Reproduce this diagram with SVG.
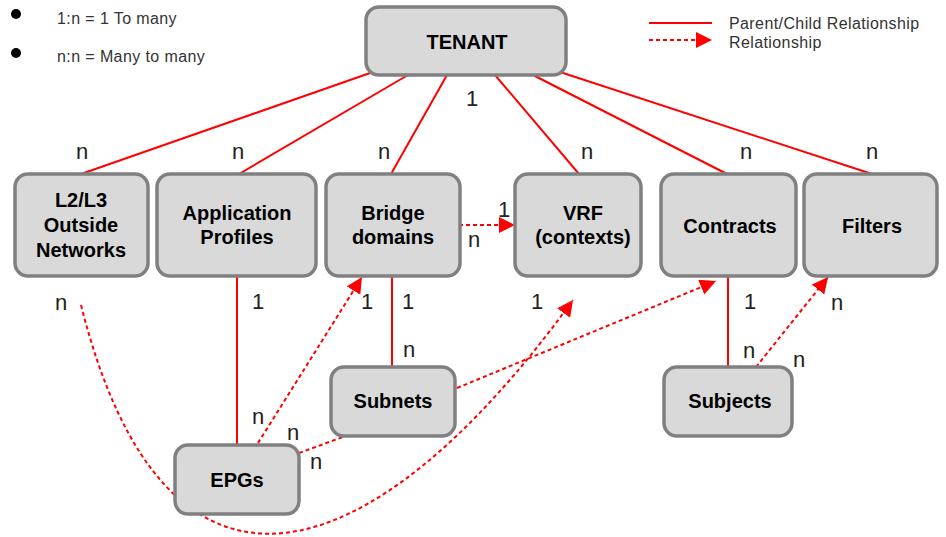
<svg xmlns="http://www.w3.org/2000/svg" width="946" height="537" viewBox="0 0 946 537">
<defs>
<marker id="arr" markerUnits="userSpaceOnUse" markerWidth="17" markerHeight="17" refX="16" refY="8" orient="auto">
<path d="M0,0 L16,8 L0,16 z" fill="#ff0000"/>
</marker>
<style>
.node rect{fill:#d9d9d9;stroke:#808080;stroke-width:3.5}
.node text{font-family:"Liberation Sans",Arial,sans-serif;font-weight:bold;font-size:20px;fill:#000;text-anchor:middle}
.solid{stroke:#ff0000;stroke-width:2;fill:none}
.dash{stroke:#ff0000;stroke-width:2;fill:none;stroke-dasharray:4 3}
.lbl{font-family:"Liberation Sans",Arial,sans-serif;font-size:22px;fill:#222;text-anchor:middle}
.leg{font-family:"Liberation Sans",Arial,sans-serif;font-size:16px;fill:#333;letter-spacing:0.4px}
</style>
</defs>
<rect width="946" height="537" fill="#ffffff"/>

<g id="legend">
<circle cx="16" cy="14" r="5" fill="#000"/>
<circle cx="16" cy="53" r="5" fill="#000"/>
<text class="leg" x="57" y="24">1:n = 1 To many</text>
<text class="leg" x="57" y="62">n:n = Many to many</text>
<line class="solid" x1="649" y1="23" x2="712" y2="23"/>
<line class="dash" x1="649" y1="40" x2="712" y2="40" marker-end="url(#arr)"/>
<text class="leg" x="729" y="29">Parent/Child Relationship</text>
<text class="leg" x="729" y="48">Relationship</text>
</g>

<g id="connectors">
<line class="solid" x1="373" y1="72" x2="81" y2="174"/>
<line class="solid" x1="408" y1="75" x2="239" y2="174"/>
<line class="solid" x1="447" y1="75" x2="391" y2="174"/>
<line class="solid" x1="495" y1="75" x2="579" y2="174"/>
<line class="solid" x1="533" y1="75" x2="727" y2="174"/>
<line class="solid" x1="560" y1="72" x2="872" y2="174"/>
<line class="solid" x1="237" y1="277" x2="237" y2="445"/>
<line class="solid" x1="392" y1="277" x2="392" y2="367"/>
<line class="solid" x1="728" y1="277" x2="728" y2="367"/>
<line class="dash" x1="459" y1="225" x2="515" y2="225" marker-end="url(#arr)"/>
<line class="dash" x1="258" y1="443" x2="362" y2="277" marker-end="url(#arr)"/>
<line class="dash" x1="299" y1="453" x2="343" y2="437"/>
<line class="dash" x1="457" y1="388" x2="716" y2="281" marker-end="url(#arr)"/>
<line class="dash" x1="756" y1="367" x2="828" y2="277" marker-end="url(#arr)"/>
<path class="dash" d="M81,305 C165,640 370,580 573,300" marker-end="url(#arr)"/>
</g>

<g id="labels">
<text class="lbl" x="472" y="106">1</text>
<text class="lbl" x="82" y="159">n</text>
<text class="lbl" x="238" y="159">n</text>
<text class="lbl" x="384" y="159">n</text>
<text class="lbl" x="587" y="159">n</text>
<text class="lbl" x="746" y="159">n</text>
<text class="lbl" x="872" y="159">n</text>
<text class="lbl" x="504" y="217">1</text>
<text class="lbl" x="474" y="247">n</text>
<text class="lbl" x="61" y="310">n</text>
<text class="lbl" x="258" y="309">1</text>
<text class="lbl" x="367" y="309">1</text>
<text class="lbl" x="408" y="309">1</text>
<text class="lbl" x="537" y="309">1</text>
<text class="lbl" x="750" y="309">1</text>
<text class="lbl" x="837" y="310">n</text>
<text class="lbl" x="409" y="357">n</text>
<text class="lbl" x="749" y="358">n</text>
<text class="lbl" x="799" y="367">n</text>
<text class="lbl" x="258" y="424">n</text>
<text class="lbl" x="293" y="440">n</text>
<text class="lbl" x="316" y="469">n</text>
</g>

<g id="tenant" class="node">
<rect x="366" y="7" width="200" height="68" rx="13"/>
<text x="467" y="49">TENANT</text>
</g>
<g id="l2l3" class="node">
<rect x="15" y="174" width="133" height="102" rx="13"/>
<text x="81" y="207">L2/L3</text>
<text x="81" y="232">Outside</text>
<text x="81" y="257">Networks</text>
</g>
<g id="appprofiles" class="node">
<rect x="157" y="174" width="159" height="102" rx="13"/>
<text x="237" y="220">Application</text>
<text x="237" y="244">Profiles</text>
</g>
<g id="bridgedomains" class="node">
<rect x="326" y="174" width="134" height="102" rx="13"/>
<text x="393" y="220">Bridge</text>
<text x="393" y="244">domains</text>
</g>
<g id="vrf" class="node">
<rect x="515" y="174" width="126" height="102" rx="13"/>
<text x="583" y="220">VRF</text>
<text x="583" y="244">(contexts)</text>
</g>
<g id="contracts" class="node">
<rect x="661" y="174" width="135" height="102" rx="13"/>
<text x="730" y="233">Contracts</text>
</g>
<g id="filters" class="node">
<rect x="804" y="174" width="133" height="102" rx="13"/>
<text x="872" y="233">Filters</text>
</g>
<g id="subnets" class="node">
<rect x="331" y="367" width="124" height="69" rx="13"/>
<text x="393" y="408">Subnets</text>
</g>
<g id="epgs" class="node">
<rect x="175" y="445" width="124" height="69" rx="13"/>
<text x="237" y="487">EPGs</text>
</g>
<g id="subjects" class="node">
<rect x="664" y="367" width="128" height="69" rx="13"/>
<text x="730" y="408">Subjects</text>
</g>
</svg>
